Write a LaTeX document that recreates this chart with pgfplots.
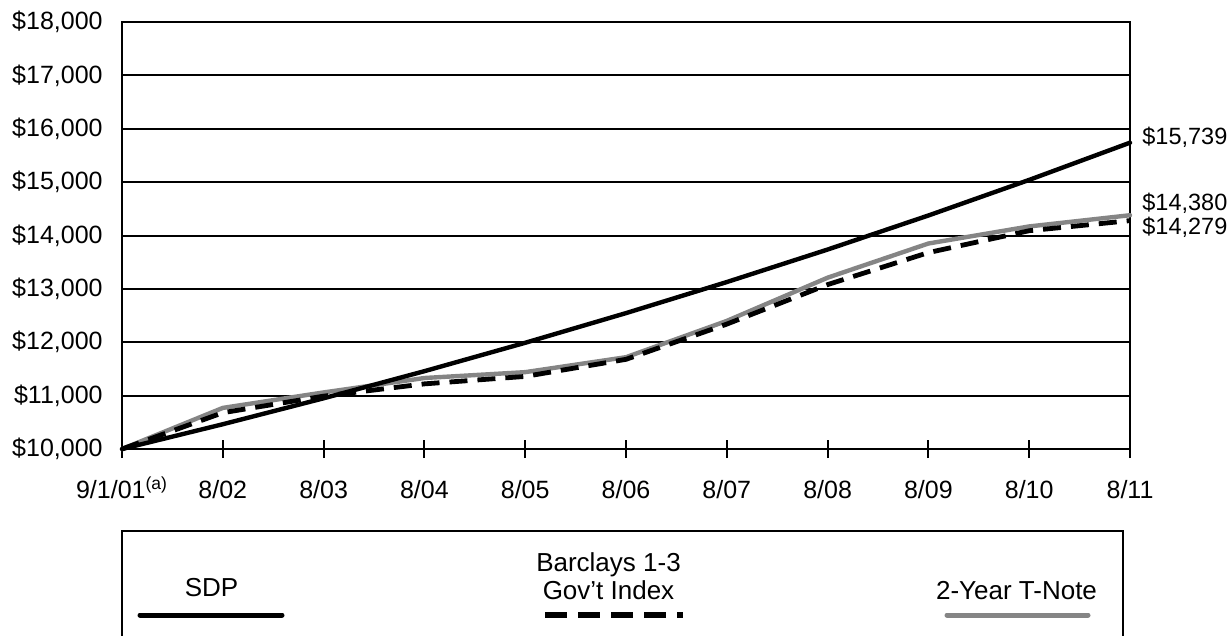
\documentclass[border=0pt]{standalone}
\usepackage{fontspec}
\setmainfont{Liberation Sans}
\usepackage{pgfplots}
\pgfplotsset{compat=1.18}
\definecolor{tnote}{HTML}{858585}
\begin{document}
\begin{tikzpicture}
\useasboundingbox (-61bp,-93.5bp) rectangle (553bp,224.5bp);
\begin{axis}[
  at={(0,0)}, anchor=south west,
  scale only axis, width=504bp, height=213.5bp,
  xmin=0, xmax=10, ymin=10000, ymax=18000,
  clip=false,
  scaled y ticks=false, scaled x ticks=false,
  xtick={0,1,...,10},
  xticklabels={9/1/01\textsuperscript{(a)},8/02,8/03,8/04,8/05,8/06,8/07,8/08,8/09,8/10,8/11},
  ytick={10000,11000,...,18000},
  yticklabels={{\$10,000},{\$11,000},{\$12,000},{\$13,000},{\$14,000},{\$15,000},{\$16,000},{\$17,000},{\$18,000}},
  xtick pos=bottom, ytick pos=left,
  tick align=center, major tick length=9bp,
  tick style={black, line width=1bp},
  ytick style={draw=none},
  ymajorgrids,
  major grid style={black, line width=1bp},
  axis line style={black, line width=1bp},
  tick label style={font=\fontsize{12.5bp}{14bp}\selectfont},
  xticklabel style={anchor=north, inner sep=0pt, text height=9bp, text depth=2.5bp},
  xticklabel shift=11bp,
  yticklabel style={anchor=east, inner sep=0pt},
  yticklabel shift=5bp,
]
\addplot[tnote, line width=2.2bp, line join=round, line cap=round] coordinates {
(0,10000)(1,10770)(2,11060)(3,11330)(4,11440)(5,11720)(6,12400)(7,13210)(8,13850)(9,14170)(10,14380)};
\addplot[black, line width=2.4bp, line join=round, dash pattern=on 9bp off 5bp] coordinates {
(0,10000)(1,10680)(2,10990)(3,11220)(4,11360)(5,11680)(6,12340)(7,13080)(8,13680)(9,14090)(10,14279)};
\addplot[black, line width=2.2bp, line join=round, line cap=round] coordinates {
(0,10000)(1,10464)(2,10950)(3,11458)(4,11990)(5,12546)(6,13128)(7,13737)(8,14375)(9,15042)(10,15739)};
\coordinate (e1) at (axis cs:10,15739);
\coordinate (e2) at (axis cs:10,14380);
\coordinate (e3) at (axis cs:10,14279);
\end{axis}
\begin{scope}[every node/.style={font=\fontsize{11.75bp}{14bp}\selectfont, inner sep=0pt}]
\node[anchor=west] at ([xshift=6bp, yshift=2.5bp]e1) {\$15,739};
\node[anchor=west] at ([xshift=6bp, yshift=6bp]e2) {\$14,380};
\node[anchor=west] at ([xshift=6bp, yshift=-3.5bp]e3) {\$14,279};
\end{scope}
% legend
\draw[line width=1bp] (0,-94bp) -- (0,-41bp) -- (500.5bp,-41bp) -- (500.5bp,-94bp);
\begin{scope}[every node/.style={font=\fontsize{13bp}{15bp}\selectfont, inner sep=0pt, anchor=base}]
\node at (44.75bp,-73.6bp) {SDP};
\node at (243.25bp,-61.1bp) {Barclays 1-3};
\node at (243.25bp,-75.1bp) {Gov’t Index};
\node at (447.25bp,-75.1bp) {2-Year T-Note};
\end{scope}
\draw[black, line width=2.5bp, line cap=round] (9bp,-83bp) -- (80bp,-83bp);
\draw[black, line width=2.6bp, dash pattern=on 11bp off 5.5bp] (211.5bp,-83bp) -- (280.5bp,-83bp);
\draw[tnote, line width=2.5bp, line cap=round] (412.5bp,-83bp) -- (483bp,-83bp);
\end{tikzpicture}
\end{document}
